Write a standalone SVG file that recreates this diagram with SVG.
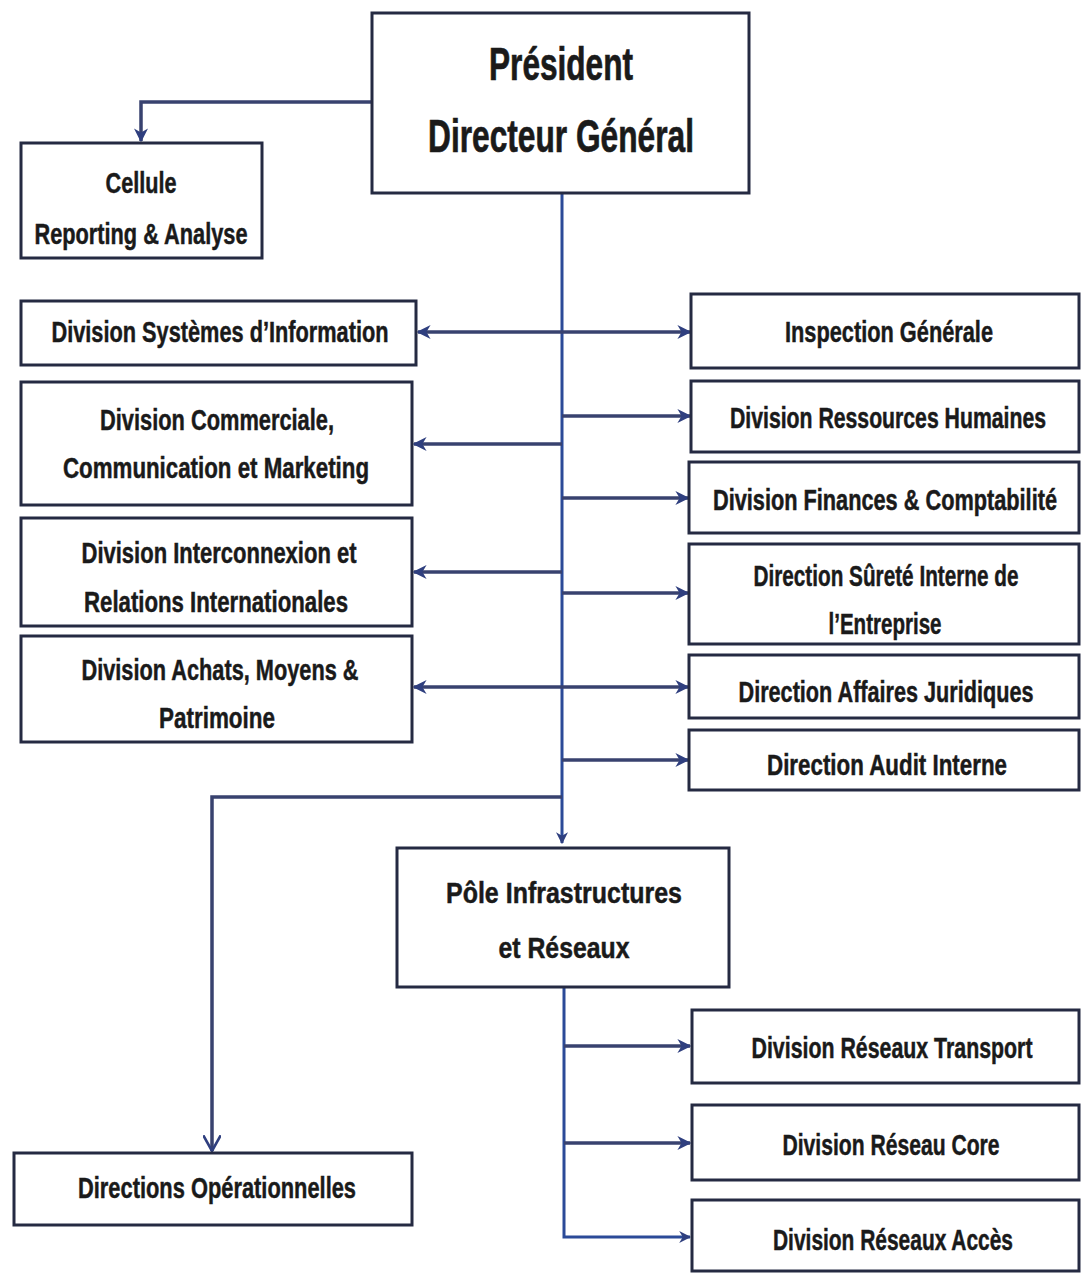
<svg xmlns="http://www.w3.org/2000/svg" width="1081" height="1273" viewBox="0 0 1081 1273">
<style>
.box{fill:#ffffff;stroke:#252a42;stroke-width:3}
.t{font-family:"Liberation Sans",Arial,sans-serif;font-weight:bold;font-size:24px;fill:#1a1a1a;text-anchor:middle;stroke:#1a1a1a;stroke-width:0.4}
.s{font-size:22px}
.big{font-size:38px;stroke-width:0.6}
.c{fill:none;stroke:#38426f;stroke-width:3.5}
.v{fill:none;stroke:#2b4a98;stroke-width:3}
</style>
<defs>
<marker id="a" viewBox="0 0 10 10" refX="9" refY="5" markerWidth="4" markerHeight="4" orient="auto-start-reverse" markerUnits="strokeWidth">
<path d="M0,0 L10,5 L0,10 L3,5 Z" fill="#2f3f7f"/>
</marker>
<marker id="o" viewBox="0 0 10 10" refX="9" refY="5" markerWidth="5" markerHeight="5" orient="auto" markerUnits="strokeWidth">
<path d="M0,0 L9,5 L0,10" fill="none" stroke="#2f3f7f" stroke-width="1.5"/>
</marker>
</defs>
<rect width="1081" height="1273" fill="#ffffff"/>
<g id="connectors">
<path class="c" d="M372,102 H141 V141" marker-end="url(#a)"/>
<path class="v" d="M562,193 V843" marker-end="url(#a)"/>
<path class="c" d="M562,332 H418" marker-end="url(#a)"/>
<path class="c" d="M562,332 H690" marker-end="url(#a)"/>
<path class="c" d="M562,416 H690" marker-end="url(#a)"/>
<path class="c" d="M562,444 H414" marker-end="url(#a)"/>
<path class="c" d="M562,498 H688" marker-end="url(#a)"/>
<path class="c" d="M562,572 H414" marker-end="url(#a)"/>
<path class="c" d="M562,593 H688" marker-end="url(#a)"/>
<path class="c" d="M562,687 H414" marker-end="url(#a)"/>
<path class="c" d="M562,687 H688" marker-end="url(#a)"/>
<path class="c" d="M562,760 H688" marker-end="url(#a)"/>
<path class="c" d="M562,797 H212 V1151" stroke-width="3" marker-end="url(#o)"/>
<path class="v" d="M564,987 V1237 H690" marker-end="url(#a)"/>
<path class="c" d="M564,1046 H690" marker-end="url(#a)"/>
<path class="c" d="M564,1143 H690" marker-end="url(#a)"/>
</g>
<g id="pdg">
<rect class="box" x="372" y="13" width="377" height="180"/>
<text class="t big" transform="translate(561,80) scale(1,1.2)" textLength="144" lengthAdjust="spacingAndGlyphs">Président</text>
<text class="t big" transform="translate(561,152) scale(1,1.2)" textLength="266" lengthAdjust="spacingAndGlyphs">Directeur Général</text>
</g>
<g id="cellule">
<rect class="box" x="21" y="143" width="241" height="115"/>
<text class="t" transform="translate(141,193) scale(1,1.2)" textLength="71" lengthAdjust="spacingAndGlyphs">Cellule</text>
<text class="t" transform="translate(141,244) scale(1,1.2)" textLength="213" lengthAdjust="spacingAndGlyphs">Reporting &amp; Analyse</text>
</g>
<g id="dsi">
<rect class="box" x="21" y="301" width="395" height="64"/>
<text class="t" transform="translate(220,342) scale(1,1.2)" textLength="337" lengthAdjust="spacingAndGlyphs">Division Systèmes d’Information</text>
</g>
<g id="dccm">
<rect class="box" x="21" y="382" width="391" height="123"/>
<text class="t" transform="translate(217,430) scale(1,1.2)" textLength="234" lengthAdjust="spacingAndGlyphs">Division Commerciale,</text>
<text class="t" transform="translate(216,478) scale(1,1.2)" textLength="306" lengthAdjust="spacingAndGlyphs">Communication et Marketing</text>
</g>
<g id="dirl">
<rect class="box" x="21" y="518" width="391" height="108"/>
<text class="t" transform="translate(219,563) scale(1,1.2)" textLength="275" lengthAdjust="spacingAndGlyphs">Division Interconnexion et</text>
<text class="t" transform="translate(216,612) scale(1,1.2)" textLength="264" lengthAdjust="spacingAndGlyphs">Relations Internationales</text>
</g>
<g id="damp">
<rect class="box" x="21" y="636" width="391" height="106"/>
<text class="t" transform="translate(220,680) scale(1,1.2)" textLength="277" lengthAdjust="spacingAndGlyphs">Division Achats, Moyens &amp;</text>
<text class="t" transform="translate(217,728) scale(1,1.2)" textLength="116" lengthAdjust="spacingAndGlyphs">Patrimoine</text>
</g>
<g id="ig">
<rect class="box" x="691" y="294" width="388" height="74"/>
<text class="t" transform="translate(889,342) scale(1,1.2)" textLength="208" lengthAdjust="spacingAndGlyphs">Inspection Générale</text>
</g>
<g id="drh">
<rect class="box" x="691" y="381" width="388" height="71"/>
<text class="t s" transform="translate(888,428) scale(1,1.31)" textLength="316" lengthAdjust="spacingAndGlyphs">Division Ressources Humaines</text>
</g>
<g id="dfc">
<rect class="box" x="689" y="462" width="390" height="71"/>
<text class="t s" transform="translate(885,510) scale(1,1.31)" textLength="344" lengthAdjust="spacingAndGlyphs">Division Finances &amp; Comptabilité</text>
</g>
<g id="dsie">
<rect class="box" x="689" y="544" width="390" height="100"/>
<text class="t" transform="translate(886,586) scale(1,1.2)" textLength="265" lengthAdjust="spacingAndGlyphs">Direction Sûreté Interne de</text>
<text class="t" transform="translate(885,634) scale(1,1.2)" textLength="113" lengthAdjust="spacingAndGlyphs">l’Entreprise</text>
</g>
<g id="daj">
<rect class="box" x="689" y="655" width="390" height="63"/>
<text class="t" transform="translate(886,702) scale(1,1.2)" textLength="295" lengthAdjust="spacingAndGlyphs">Direction Affaires Juridiques</text>
</g>
<g id="dai">
<rect class="box" x="689" y="730" width="390" height="60"/>
<text class="t" transform="translate(887,775) scale(1,1.2)" textLength="240" lengthAdjust="spacingAndGlyphs">Direction Audit Interne</text>
</g>
<g id="pole">
<rect class="box" x="397" y="848" width="332" height="139"/>
<text class="t" transform="translate(564,903) scale(1,1.2)" textLength="236" lengthAdjust="spacingAndGlyphs">Pôle Infrastructures</text>
<text class="t" transform="translate(564,958) scale(1,1.2)" textLength="131" lengthAdjust="spacingAndGlyphs">et Réseaux</text>
</g>
<g id="drt">
<rect class="box" x="692" y="1010" width="387" height="73"/>
<text class="t" transform="translate(892,1058) scale(1,1.2)" textLength="281" lengthAdjust="spacingAndGlyphs">Division Réseaux Transport</text>
</g>
<g id="drc">
<rect class="box" x="692" y="1105" width="387" height="75"/>
<text class="t" transform="translate(891,1155) scale(1,1.2)" textLength="217" lengthAdjust="spacingAndGlyphs">Division Réseau Core</text>
</g>
<g id="dra">
<rect class="box" x="692" y="1200" width="387" height="71"/>
<text class="t" transform="translate(893,1250) scale(1,1.2)" textLength="240" lengthAdjust="spacingAndGlyphs">Division Réseaux Accès</text>
</g>
<g id="dop">
<rect class="box" x="14" y="1153" width="398" height="72"/>
<text class="t" transform="translate(217,1198) scale(1,1.2)" textLength="278" lengthAdjust="spacingAndGlyphs">Directions Opérationnelles</text>
</g>
</svg>
